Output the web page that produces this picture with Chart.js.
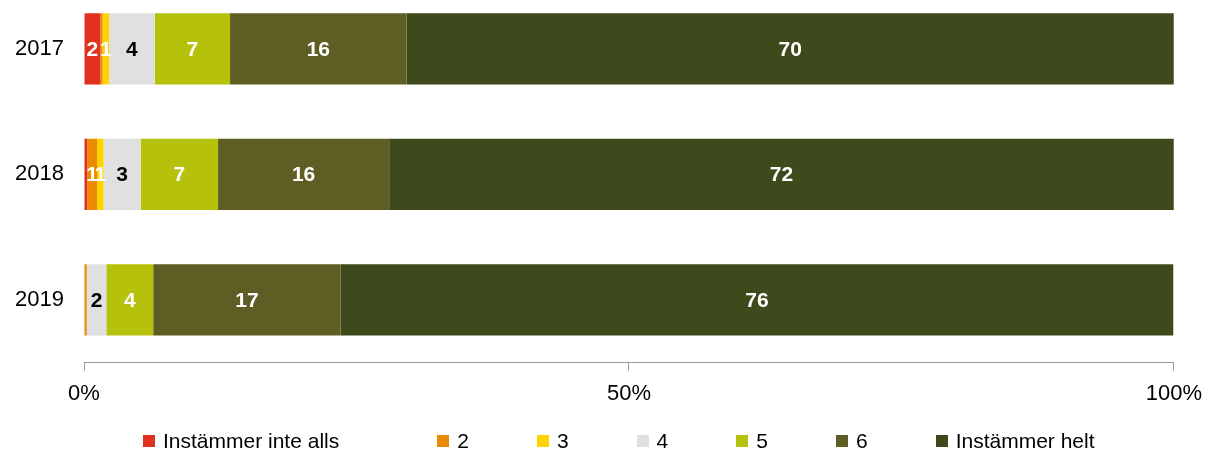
<!DOCTYPE html>
<html>
<head>
<meta charset="utf-8">
<script src="https://cdn.jsdelivr.net/npm/chart.js@4.4.1/dist/chart.umd.min.js"></script>
<style>
  html, body { margin: 0; padding: 0; background: #fff; }
  #wrap { width: 1212px; height: 462px; position: relative; overflow: hidden; }
  #box { position: absolute; left: 0; top: -47px; width: 1212px; height: 509px; }
  #legend {
    position: absolute; left: 143px; top: 428px; height: 26px;
    display: flex; align-items: center;
    font: 21px 'Liberation Sans', Arial, sans-serif; color: #000;
  }
  #legend .item { display: flex; align-items: center; margin-right: 68px; white-space: nowrap; }
  #legend .item:first-child { margin-right: 98px; }
  #legend .sw { width: 12px; height: 12px; margin-right: 8px; }
</style>
</head>
<body>
<div id="wrap">
  <div id="box"><canvas id="chart"></canvas></div>
  <div id="legend"></div>
</div>
<script>
const years = ["2017", "2018", "2019"];
const seriesNames = ["Instämmer inte alls", "2", "3", "4", "5", "6", "Instämmer helt"];
const seriesColors = ["#e0301e", "#ea8a00", "#ffd200", "#e0e0e0", "#b5c10a", "#5e5e24", "#3f4a1c"];
const labelColors = ["#fff", "#fff", "#fff", "#000", "#fff", "#fff", "#fff"];

// percent per answer level, values for 2017, 2018, 2019
const val1 = [1.5, 0.3, 0];
const val2 = [0.2, 0.9, 0.25];
const val3 = [0.6, 0.6, 0];
const val4 = [4.2, 3.4, 1.8];
const val5 = [6.9, 7.1, 4.3];
const val6 = [16.2, 15.7, 17.2];
const val7 = [70.4, 72.0, 76.4];
const allValues = [val1, val2, val3, val4, val5, val6, val7];

const xTicks = [0, 50, 100];

const FONT = "'Liberation Sans', Arial, sans-serif";

// numbers inside the segments, hidden when they round to 0
const barLabels = {
  id: "barLabels",
  afterDatasetsDraw(chart) {
    const ctx = chart.ctx;
    ctx.save();
    ctx.font = "bold 21px " + FONT;
    ctx.textAlign = "center";
    ctx.textBaseline = "middle";
    chart.data.datasets.forEach((ds, i) => {
      const meta = chart.getDatasetMeta(i);
      meta.data.forEach((bar, j) => {
        const v = Math.round(ds.data[j]);
        if (!v) return;
        ctx.fillStyle = labelColors[i];
        ctx.fillText(v, (bar.x + bar.base) / 2, bar.y + 1);
      });
    });
    ctx.restore();
  }
};

new Chart(document.getElementById("chart"), {
  type: "bar",
  data: {
    labels: years,
    datasets: seriesNames.map((name, i) => ({
      label: name,
      data: allValues[i],
      backgroundColor: seriesColors[i],
      borderWidth: 0,
      barPercentage: 0.567,
      categoryPercentage: 1
    }))
  },
  options: {
    indexAxis: "y",
    responsive: true,
    maintainAspectRatio: false,
    animation: false,
    layout: { padding: { top: 12, left: 0, right: 14, bottom: 45 } },
    scales: {
      x: {
        stacked: true,
        min: 0,
        max: 100,
        afterBuildTicks: axis => { axis.ticks = xTicks.map(v => ({ value: v })); },
        ticks: {
          callback: v => v + "%",
          color: "#000",
          font: { family: FONT, size: 22 },
          padding: 10,
          maxRotation: 0
        },
        grid: { drawOnChartArea: false, tickLength: 8, color: "#999" },
        border: { color: "#999" }
      },
      y: {
        stacked: true,
        afterFit: s => { s.width = 84; },
        ticks: {
          color: "#000",
          font: { family: FONT, size: 22 },
          padding: 20
        },
        grid: { display: false, drawTicks: false },
        border: { display: false }
      }
    },
    plugins: {
      legend: { display: false },
      tooltip: { enabled: false }
    }
  },
  plugins: [barLabels]
});

const legendEl = document.getElementById("legend");
legendEl.innerHTML = seriesNames.map((n, i) =>
  `<div class="item"><span class="sw" style="background:${seriesColors[i]}"></span><span>${n}</span></div>`
).join("");
</script>
</body>
</html>
